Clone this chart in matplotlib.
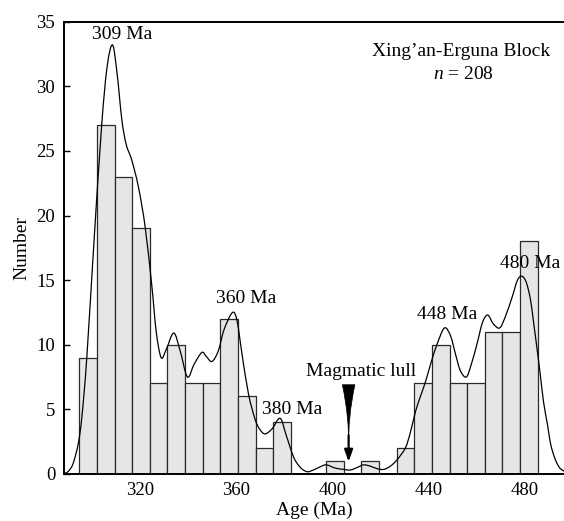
import numpy as np
import matplotlib
matplotlib.use("Agg")
import matplotlib.pyplot as plt
from matplotlib.path import Path
from matplotlib.patches import PathPatch

# Histogram (bin counts, 26 equal bins)
bin_start = 294.7
bin_end = 485.5
counts = [9, 27, 23, 19, 7, 10, 7, 7, 12, 6, 2, 4, 0, 0, 1, 0, 1, 0, 2, 7, 10, 7, 7, 11, 11, 18]

# Probability-density curve (age, value)
curve_age = [288.1, 290.1, 292.1, 294.3, 295.8, 297.8, 300.8, 304.0, 306.25, 308.5,
             310.4, 312.4, 314.2, 316.5, 319.3, 322.1, 324.9, 326.7, 328.75, 330.8,
             334.0, 336.7, 339.7, 342.5, 345.7, 347.5, 349.9, 352.5, 355.0, 358.5,
             360.4, 362.4, 365.1, 367.9, 370.0, 372.1, 375.0, 378.3, 380.8, 383.9,
             386.7, 389.5, 392.1, 395.0, 397.5, 401.25, 404.7, 407.5, 410.4, 413.0,
             415.8, 418.75, 421.4, 424.2, 427.0, 430.4, 432.5, 434.6, 436.7, 438.75,
             441.25, 443.75, 446.7, 449.2, 451.25, 453.3, 455.8, 457.9, 460.3, 462.5,
             464.7, 467.1, 469.7, 472.1, 474.9, 477.1, 479.0, 480.8, 482.5, 483.75,
             485.3, 486.7, 488.0, 489.6, 490.8, 492.1, 493.6, 495.0, 496.7]
curve_val = [0.0, 0.2, 0.8, 2.4, 4.5, 9.0, 18.0, 27.0, 31.5, 33.2,
             31.0, 27.4, 25.5, 24.3, 22.2, 19.1, 14.5, 11.0, 9.0, 9.6,
             10.9, 9.5, 7.5, 8.5, 9.4, 9.1, 8.7, 9.5, 11.2, 12.5,
             11.8, 9.3, 6.2, 4.2, 3.4, 3.1, 3.5, 4.3, 3.0, 1.3,
             0.5, 0.17, 0.3, 0.55, 0.7, 0.45, 0.35, 0.3, 0.5, 0.7,
             0.6, 0.4, 0.35, 0.6, 1.1, 2.0, 3.2, 4.8, 6.0, 7.1,
             8.7, 10.1, 11.3, 10.7, 9.3, 8.0, 7.5, 8.5, 10.1, 11.7,
             12.3, 11.6, 11.3, 12.2, 13.7, 15.0, 15.3, 14.8, 13.5, 11.8,
             9.6, 7.5, 5.5, 3.8, 2.4, 1.5, 0.8, 0.4, 0.2]

peak_labels = ["309 Ma", "360 Ma", "380 Ma", "448 Ma", "480 Ma"]
peak_label_x = [312.4, 364.0, 383.2, 448.0, 482.5]
peak_label_y = [34.0, 13.6, 4.95, 12.3, 16.3]

x_ticks = [320, 360, 400, 440, 480]
y_ticks = [0, 5, 10, 15, 20, 25, 30, 35]

plt.rcParams['font.family'] = ['Liberation Serif', 'DejaVu Serif']
plt.rcParams['mathtext.fontset'] = 'custom'
plt.rcParams['mathtext.rm'] = 'Liberation Serif'
plt.rcParams['mathtext.it'] = 'Liberation Serif:italic'

fig = plt.figure(figsize=(5.64, 5.21), dpi=100)
ax = fig.add_axes([63.5 / 564, 1 - 473.9 / 521, 1 - 63.5 / 564 + 0.001, (473.9 - 21.7) / 521])

edges = np.linspace(bin_start, bin_end, len(counts) + 1)
ax.bar(edges[:-1], counts, width=np.diff(edges), align='edge',
       color='#e6e6e8', edgecolor='#2a2a2a', linewidth=0.9, zorder=2)


def smooth_path(xs, ys):
    """Catmull-Rom rendering of the read points as cubic Bezier segments."""
    p = np.column_stack([xs, ys])
    verts = [p[0]]
    codes = [Path.MOVETO]
    n = len(p)
    for i in range(n - 1):
        p0 = p[i - 1] if i > 0 else p[i]
        p1 = p[i]
        p2 = p[i + 1]
        p3 = p[i + 2] if i + 2 < n else p[i + 1]
        c1 = p1 + (p2 - p0) / 6.0
        c2 = p2 - (p3 - p1) / 6.0
        verts += [c1, c2, p2]
        codes += [Path.CURVE4] * 3
    return Path(verts, codes)


ax.add_patch(PathPatch(smooth_path(curve_age, curve_val), fill=False,
                       edgecolor='black', linewidth=0.9, zorder=3))

for lab, lx, ly in zip(peak_labels, peak_label_x, peak_label_y):
    ax.text(lx, ly, lab, ha='center', va='center', fontsize=14, zorder=4)

ax.text(453.7, 32.7, "Xing\u2019an-Erguna Block", ha='center', va='center', fontsize=14)
ax.text(454.7, 30.9, r"$n$ = 208", ha='center', va='center', fontsize=14)

# Magmatic lull arrow
ax.text(412.0, 7.9, "Magmatic lull", ha='center', va='center', fontsize=14)
ax.annotate('', xy=(406.8, 2.0), xytext=(406.8, 6.9),
            arrowprops=dict(arrowstyle='wedge,tail_width=0.9,shrink_factor=0.2',
                            fc='black', ec='black', lw=0.5, shrinkA=0, shrinkB=0))
ax.annotate('', xy=(406.8, 0.94), xytext=(406.8, 3.0),
            arrowprops=dict(arrowstyle='-|>,head_length=0.7,head_width=0.25',
                            fc='black', ec='black', lw=1.6, shrinkA=0, shrinkB=0))

ax.set_xlim(288.1, 496.7)
ax.set_ylim(0, 35)
ax.set_xticks(x_ticks)
ax.set_yticks(y_ticks)
ax.tick_params(direction='in', length=4, width=1, labelsize=13.5, pad=6)
ax.spines['right'].set_visible(False)
for s in ['left', 'top', 'bottom']:
    ax.spines[s].set_linewidth(1.4)
ax.set_xlabel("Age (Ma)", fontsize=14, labelpad=2)
ax.set_ylabel("Number", fontsize=14, labelpad=4)

fig.savefig("out.png", dpi=100)
